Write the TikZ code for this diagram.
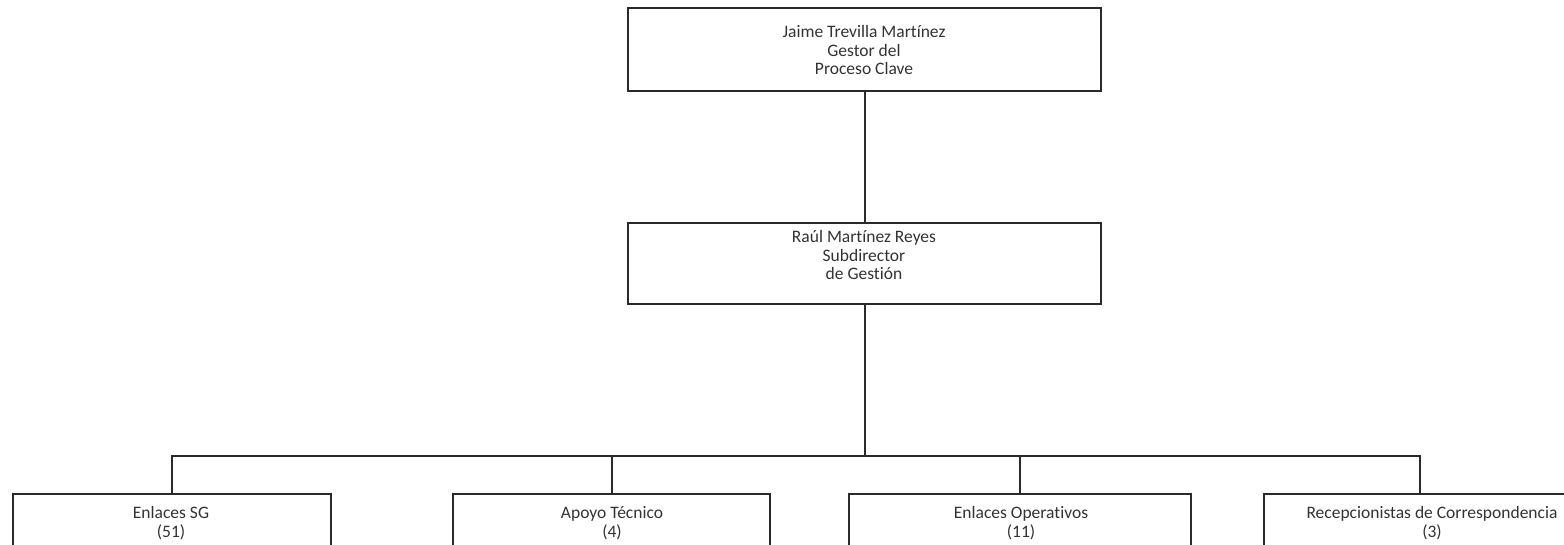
\documentclass[tikz,border=0pt]{standalone}
\usepackage{fontspec}
\setmainfont{Carlito}[Ligatures={NoCommon}]
\definecolor{linec}{HTML}{2A2A2A}
\definecolor{textc}{HTML}{333333}
\begin{document}
\begin{tikzpicture}[x=1pt,y=-1pt,
  box/.style={draw=linec,line width=2pt,fill=white,rectangle,inner sep=0pt,anchor=north west},
  lbl/.style={text=textc,align=center,font=\fontsize{17.5}{18.5}\selectfont,inner sep=0pt},
  conn/.style={draw=linec,line width=2pt}]
\useasboundingbox (0,0) rectangle (1564,544);
\begin{scope}
\clip (0,0) rectangle (1564,544);
\node[box,minimum width=473pt,minimum height=83pt] (top) at (627,7) {};
\node[box,minimum width=473pt,minimum height=81pt] (mid) at (627,222) {};
\coordinate (bus) at (864,456);
\node[box,minimum width=318pt,minimum height=80pt] (c1) at (12,493) {};
\node[box,minimum width=317pt,minimum height=80pt] (c2) at (452,493) {};
\node[box,minimum width=342pt,minimum height=80pt] (c3) at (848,493) {};
\node[box,minimum width=338pt,minimum height=80pt] (c4) at (1263,493) {};
\coordinate (s4) at (1420,493);
\draw[conn] (top.south) -- (mid.north);
\draw[conn] (mid.south) -- (mid.south |- bus);
\draw[conn] (c1.north) -- (c1.north |- bus) -- (s4 |- bus) -- (s4);
\draw[conn] (c2.north |- bus) -- (c2.north);
\draw[conn] (c3.north |- bus) -- (c3.north);
\node[lbl] (ttop) at (864,50) {Jaime Trevilla Martínez\\Gestor del\\Proceso Clave};
\node[lbl] (tmid) at (864,255) {Raúl Martínez Reyes\\Subdirector\\de Gestión};
\node[lbl] (t1) at (171,523) {Enlaces SG\\(51)};
\node[lbl] (t2) at (612,523) {Apoyo Técnico\\(4)};
\node[lbl] (t3) at (1021,523) {Enlaces Operativos\\(11)};
\node[lbl] (t4) at (1432,523) {Recepcionistas de Correspondencia\\(3)};
\end{scope}
\end{tikzpicture}
\end{document}
